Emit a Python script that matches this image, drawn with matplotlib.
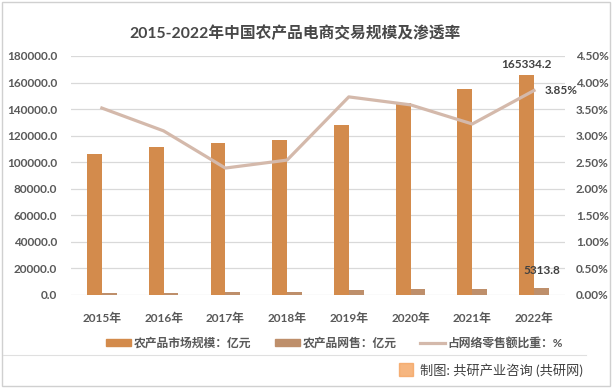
import numpy as np
import matplotlib.pyplot as plt
from matplotlib.patches import Rectangle
from matplotlib.lines import Line2D

years = ["2015年", "2016年", "2017年", "2018年", "2019年", "2020年", "2021年", "2022年"]
market = [106200, 111500, 114500, 116700, 128000, 144600, 155100, 165334.2]
online = [1505, 1589, 2437, 2305, 3975, 4158.9, 4221, 5313.8]
share = [3.52, 3.09, 2.39, 2.54, 3.73, 3.58, 3.22, 3.85]

c_market = "#D38B4C"
c_online = "#BE8F6B"
c_share = "#D4B9AB"
txt = "#595959"
fam = ["Lato", "Noto Sans CJK SC", "DejaVu Sans"]
plt.rcParams["font.family"] = fam

fig = plt.figure(figsize=(6.14, 3.88), dpi=100)
ax = fig.add_axes([0.1156, 0.2397, 0.8044, 0.616])
ax2 = ax.twinx()

x = np.arange(len(years))
w = 0.24
ax.bar(x - w / 2, market, w, color=c_market, zorder=3)
ax.bar(x + w / 2, online, w, color=c_online, zorder=3)
ax2.plot(x, share, color=c_share, lw=2.3, zorder=4)

ax.set_xlim(-0.5, len(years) - 0.5)
ax.set_ylim(0, 180000)
ax2.set_ylim(0, 4.5)
ax.set_yticks(np.arange(0, 180001, 20000))
ax.set_yticklabels([f"{v:.1f}" for v in np.arange(0, 180001, 20000)])
ax2.set_yticks(np.arange(0, 4.51, 0.5))
ax2.set_yticklabels([f"{v:.2f}%" for v in np.arange(0, 4.51, 0.5)])
ax.set_xticks(x)
ax.set_xticklabels(years)

for a in (ax, ax2):
    for s in a.spines.values():
        s.set_visible(False)
    a.tick_params(length=0, labelsize=8.5, labelcolor=txt)
    for lab in a.get_xticklabels() + a.get_yticklabels():
        lab.set_fontweight("bold")
ax.tick_params(axis="x", pad=13)
ax.tick_params(axis="y", pad=10)
ax2.tick_params(axis="y", pad=8)
ax.grid(axis="y", color="#D9D9D9", lw=0.9, zorder=0)
ax.set_axisbelow(True)

ax.text(x[-1] - w / 2, market[-1] + 4000, f"{market[-1]:.1f}", ha="center", va="bottom",
        fontsize=8.5, fontweight="bold", color="#404040")
ax.text(x[-1] + w / 2, online[-1] + 9000, f"{online[-1]:.1f}", ha="center", va="bottom",
        fontsize=8.5, fontweight="bold", color="#404040")
ax2.text(x[-1] + 0.18, share[-1], f"{share[-1]:.2f}%", ha="left", va="center",
         fontsize=8.5, fontweight="bold", color="#404040")

fig.text(0.48, 0.915, "2015-2022年中国农产品电商交易规模及渗透率", ha="center", va="center",
         fontsize=11.3, fontweight="bold", color="#484848")

# legend
handles = [Rectangle((0, 0), 1, 1, color=c_market), Rectangle((0, 0), 1, 1, color=c_online),
           Line2D([0], [0], color=c_share, lw=2.3)]
labels = ["农产品市场规模：亿元", "农产品网售：亿元", "占网络零售额比重：%"]
leg = fig.legend(handles, labels, loc="center", bbox_to_anchor=(0.545, 0.116), ncol=3,
                 frameon=False, fontsize=8.5, handlelength=2.1, handleheight=0.5,
                 columnspacing=2.0, handletextpad=0.25)
for t in leg.get_texts():
    t.set_color(txt)
    t.set_fontweight("bold")

# footer
fig.add_artist(Line2D([0.005, 0.955], [0.085, 0.085], color="#E0E0E0", lw=0.8))
fig.add_artist(Rectangle((0.650, 0.030), 0.022, 0.034, color="#F4A460", alpha=0.8))
fig.text(0.684, 0.047, "制图: 共研产业咨询 (共研网)", ha="left", va="center",
         fontsize=9.5, color="#404040")
fig.add_artist(Rectangle((0.004, 0.006), 0.99, 0.988, fill=False, ec="#D0D0D0", lw=1.0))

fig.savefig("out.png", dpi=100)
